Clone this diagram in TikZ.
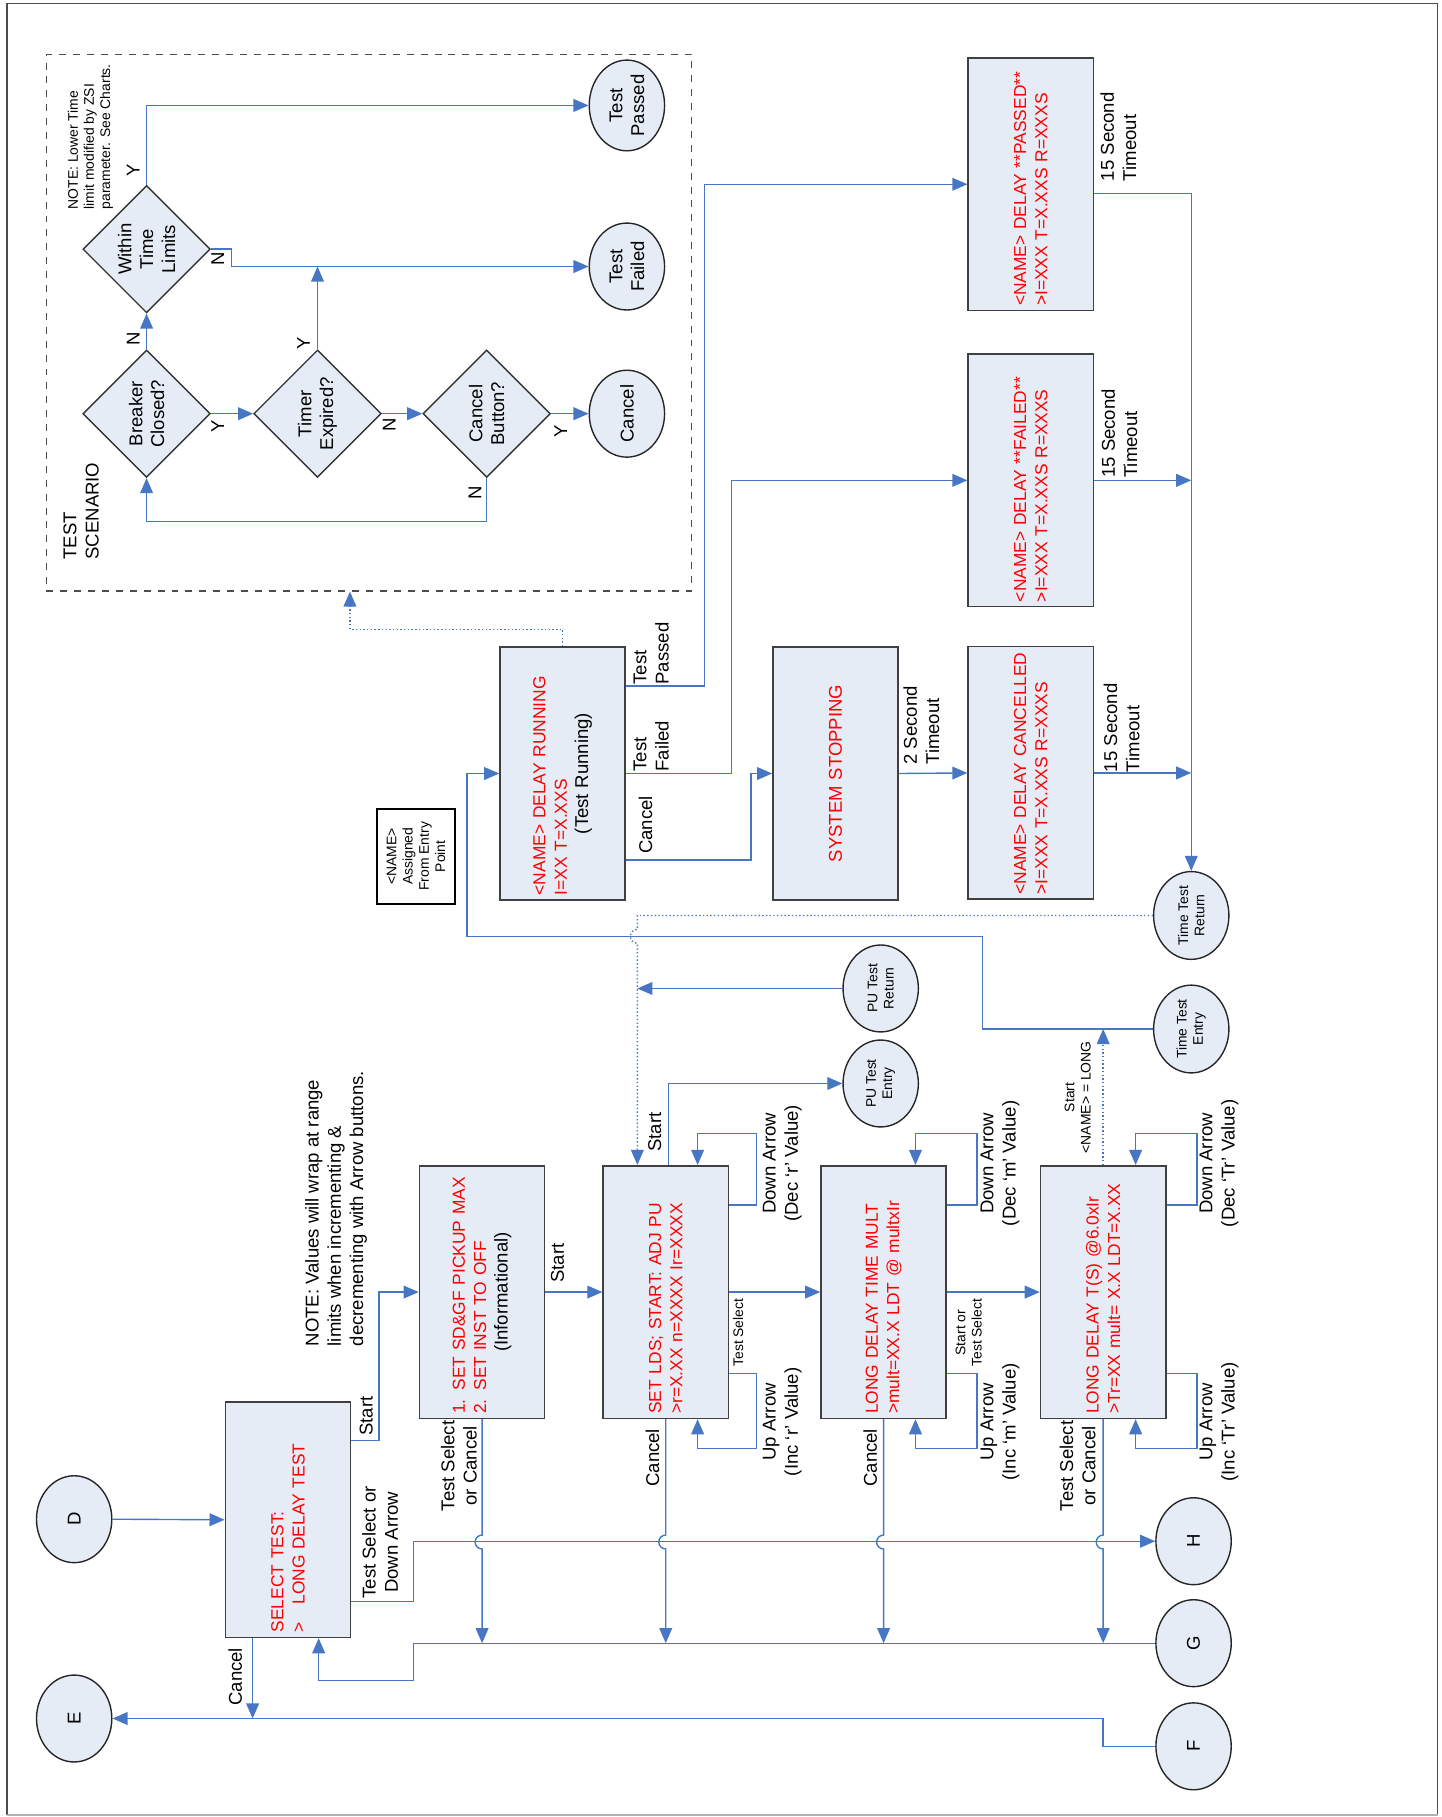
\documentclass[tikz,border=0pt]{standalone}
\usepackage{fontspec}
\setmainfont{Liberation Sans}
\usetikzlibrary{shapes.geometric,arrows.meta}

\definecolor{boxfill}{RGB}{230,236,246}
\definecolor{flowblue}{RGB}{70,118,196}
\definecolor{msgred}{RGB}{255,0,0}

\begin{document}
\begin{tikzpicture}[x=0.5pt, y=-0.5pt,
    screen/.style={draw=black!75, line width=0.7pt, fill=boxfill, rotate=90,
      minimum width=109pt, minimum height=54pt, text width=105pt, inner xsep=2pt,
      align=left, font=\fontsize{7.5}{9.2}\selectfont},
    decide/.style={diamond, aspect=1, draw=black!80, line width=0.6pt, fill=boxfill,
      rotate=90, minimum size=55pt, inner sep=0pt, align=center,
      font=\fontsize{8}{9.4}\selectfont},
    term/.style={ellipse, draw=black!85, line width=0.6pt, fill=boxfill, rotate=90,
      minimum width=37.5pt, minimum height=32.5pt, inner sep=0.5pt, align=center,
      font=\fontsize{8}{9.4}\selectfont},
    flow/.style={draw=flowblue, line width=0.6pt, -{Triangle[length=6.5pt,width=5.5pt]}},
    jump/.style={flow, densely dotted},
    lbl/.style={rotate=90, inner sep=1pt, align=center, font=\fontsize{8}{9.6}\selectfont},
    tinylbl/.style={lbl, font=\fontsize{6}{7}\selectfont}]
  \def\hop{arc[start angle=90, end angle=270, radius=3pt]}
  \useasboundingbox (0,0) rectangle (1244,1568);
  \draw[black!70, line width=0.8pt] (6,1566) -- (6,3) -- (1240.5,3) -- (1240.5,1566);
  \draw[black!30, line width=0.8pt] (6,1566) -- (1240.5,1566);

  % test scenario
  \node[draw=black!70, dashed, line width=0.5pt, minimum width=278.5pt, minimum height=231.5pt] (scen) at (318.5,278.5) {};
  \node[lbl, align=left] at (70,441) {TEST\\SCENARIO};
  \node[tinylbl, align=left] at (78,118) {NOTE: Lower Time\\limit modified by ZSI\\parameter. See Charts.};
  \node[decide] (bc) at (126.5,357) {Breaker\\Closed?};
  \node[decide] (te) at (274,357) {Timer\\Expired?};
  \node[decide] (cb) at (420,357) {Cancel\\Button?};
  \node[decide] (wt) at (126.5,215) {Within\\Time\\Limits};
  \node[term] (cn) at (541,357) {Cancel};
  \node[term] (tf) at (541,230) {Test\\Failed};
  \node[term] (tp) at (541,91) {Test\\Passed};

  \draw[flow] (bc.south) -- (te.north);
  \draw[flow] (te.south) -- (cb.north);
  \draw[flow] (cb.south) -- (cn.north);
  \draw[flow] (cb.west) -- (420,450) -| (bc.west);
  \draw[flow] (bc.east) -- (wt.west);
  \draw[flow] (te.east) -- (te.east |- tf.north);
  \draw[flow] (wt.south) -- (200,215) |- (tf.north);
  \draw[flow] (wt.east) |- (tp.north);
  \node[lbl] at (188,368) {Y};
  \node[lbl] at (336,367) {N};
  \node[lbl] at (484,372) {Y};
  \node[lbl] at (410,425) {N};
  \node[lbl] at (115,292) {N};
  \node[lbl] at (262,296) {Y};
  \node[lbl] at (188,223) {N};
  \node[lbl] at (115,147) {Y};

  % running and result screens
  \node[draw=black, line width=0.9pt, fill=white, rotate=90, minimum width=41pt, minimum height=34pt,
    inner sep=1pt, align=center, font=\fontsize{6}{7}\selectfont] (assg) at (359,739) {<NAME>\\Assigned\\From Entry\\Point};
  \node[screen] (drun) at (485.5,667.5) {\color{msgred}<NAME> DELAY RUNNING\\I=XX T=X.XXS\\
    \color{black}\makebox[\hsize]{\fontsize{8}{9.4}\selectfont(Test Running)}};
  \node[screen, align=center] (stop) at (721,667.5) {\color{msgred}\fontsize{8}{9.4}\selectfont SYSTEM STOPPING};
  \node[screen] (pass) at (889.5,159) {\color{msgred}<NAME> DELAY **PASSED**\\>I=XXX T=X.XXS R=XXXS};
  \node[screen] (fail) at (889.5,414.5) {\color{msgred}<NAME> DELAY **FAILED**\\>I=XXX T=X.XXS R=XXXS};
  \node[screen] (canc) at (889.5,667) {\color{msgred}<NAME> DELAY CANCELLED\\>I=XXX T=X.XXS R=XXXS};
  \node[term, font=\fontsize{6}{7}\selectfont] (ttr) at (1028,790) {Time Test\\Return};
  \node[term, font=\fontsize{6}{7}\selectfont] (tte) at (1028,888) {Time Test\\Entry};
  \node[term, font=\fontsize{6}{7}\selectfont] (pur) at (760,853) {PU Test\\Return};
  \node[term, font=\fontsize{6}{7}\selectfont] (pue) at (760,935) {PU Test\\Entry};

  \draw[jump] (drun.east) |- (302,543) -- (scen.south -| 302,0);
  \draw[flow] (drun.south |- 0,592) -- (608,592) |- (pass.north);
  \draw[flow] (drun.south) -- (631,667.5) |- (fail.north);
  \draw[flow] (drun.south |- 0,742) -- (648,742) |- (stop.north);
  \draw[flow] (stop.south) -- (canc.north);
  \draw[flow] (pass.south |- 0,167) -| (ttr.east);
  \draw[flow] (fail.south) -- (fail.south -| ttr.east);
  \draw[flow] (canc.south) -- (canc.south -| ttr.east);
  \node[lbl, align=left] at (562,564) {Test\\Passed};
  \node[lbl, align=left] at (562,644) {Test\\Failed};
  \node[lbl] at (557,712) {Cancel};
  \node[lbl, align=left] at (795,626) {2 Second\\Timeout};
  \node[lbl, align=left] at (965,118) {15 Second\\Timeout};
  \node[lbl, align=left] at (966,374) {15 Second\\Timeout};
  \node[lbl, align=left] at (968,628) {15 Second\\Timeout};

  % setup screens
  \node[term] (D) at (64,1311) {D};
  \node[term] (E) at (64,1483) {E};
  \node[term] (H) at (1030,1330) {H};
  \node[term] (G) at (1030,1418) {G};
  \node[term] (F) at (1030,1507) {F};
  \node[screen, minimum width=101.5pt, text width=97pt] (selt) at (248.5,1311.5)
    {\color{msgred}SELECT TEST:\\>\quad LONG DELAY TEST};
  \node[screen] (sdgf) at (416,1115) {\color{msgred}1. SET SD\&GF PICKUP MAX\\2. SET INST TO OFF\\
    \color{black}\makebox[\hsize]{\fontsize{8}{9.4}\selectfont(Informational)}};
  \node[screen] (slds) at (574.5,1115) {\color{msgred}SET LDS; START: ADJ PU\\>r=X.XX n=XXXX Ir=XXXX};
  \node[screen] (ldtm) at (762.5,1115) {\color{msgred}LONG DELAY TIME MULT\\>mult=XX.X LDT @ multxIr};
  \node[screen] (ldts) at (952,1115) {\color{msgred}LONG DELAY T(S) @6.0xIr\\>Tr=XX mult= X.X LDT=X.XX};
  \node[lbl, align=left] at (290,1043) {NOTE: Values will wrap at range\\limits when incrementing \&\\decrementing with Arrow buttons.};

  \draw[flow] (D.south) -- (selt.north);
  \draw[flow] (selt.south |- 0,1243) -- (327,1243) |- (sdgf.north);
  \draw[flow] (selt.south |- 0,1382) -- (357,1382) |- (H.north);
  \draw[flow] (selt.west -| 218,0) -- (218,0 |- E.south);
  \draw[flow] (F.north) -- (952,1507) |- (E.south);
  \draw[flow] (G.north) -- (357,1418) -- (357,1450) -| (selt.west -| 275,0);
  \foreach \nd in {sdgf,slds,ldtm,ldts}
    \draw[flow] (\nd.west) -- ++(0,-50pt) \hop -- (\nd.west |- G.north);
  \draw[flow] (sdgf.south) -- (slds.north);
  \draw[flow] (slds.south) -- (ldtm.north);
  \draw[flow] (ldtm.south) -- (ldts.north);
  \foreach \nd/\lx/\ax/\v/\tx in {slds/653/602/r/675, ldtm/843/790/m/863, ldts/1033/980/Tr/1052} {
    \draw[flow] (\nd.south |- 0,1040) -| (\lx,978) -| (\nd.east -| \ax,0);
    \draw[flow] (\nd.south |- 0,1185) -| (\lx,1250) -| (\nd.west -| \ax,0);
    \node[lbl] at (\tx,1004) {Down Arrow\\(Dec `\v' Value)};
    \node[lbl] at (\tx,1227) {Up Arrow\\(Inc `\v' Value)};
  }
  \draw[flow] (slds.east -| 577,0) |- (pue.north);
  \draw[flow] (pur.north) -- (550,853);
  \draw[jump] (ttr.north) -- (550,790) -- (550,802) \hop -- (slds.east -| 550,0);
  \draw[flow] (tte.north) -| (848,808) -| (403,667.5) -- (drun.north);
  \draw[jump] (ldts.east) -- (tte.north -| ldts.east);

  \node[lbl] at (316,1222) {Start};
  \node[lbl] at (328,1331) {Test Select or\\Down Arrow};
  \node[lbl] at (203,1447) {Cancel};
  \node[lbl] at (396,1265) {Test Select\\or Cancel};
  \node[lbl] at (481,1090) {Start};
  \node[lbl] at (563,1258) {Cancel};
  \node[lbl] at (751,1258) {Cancel};
  \node[lbl] at (930,1265) {Test Select\\or Cancel};
  \node[tinylbl] at (637,1150) {Test Select};
  \node[tinylbl] at (836,1150) {Start or\\Test Select};
  \node[lbl] at (565,977) {Start};
  \node[tinylbl] at (930,947) {Start\\<NAME> = LONG};
\end{tikzpicture}
\end{document}
